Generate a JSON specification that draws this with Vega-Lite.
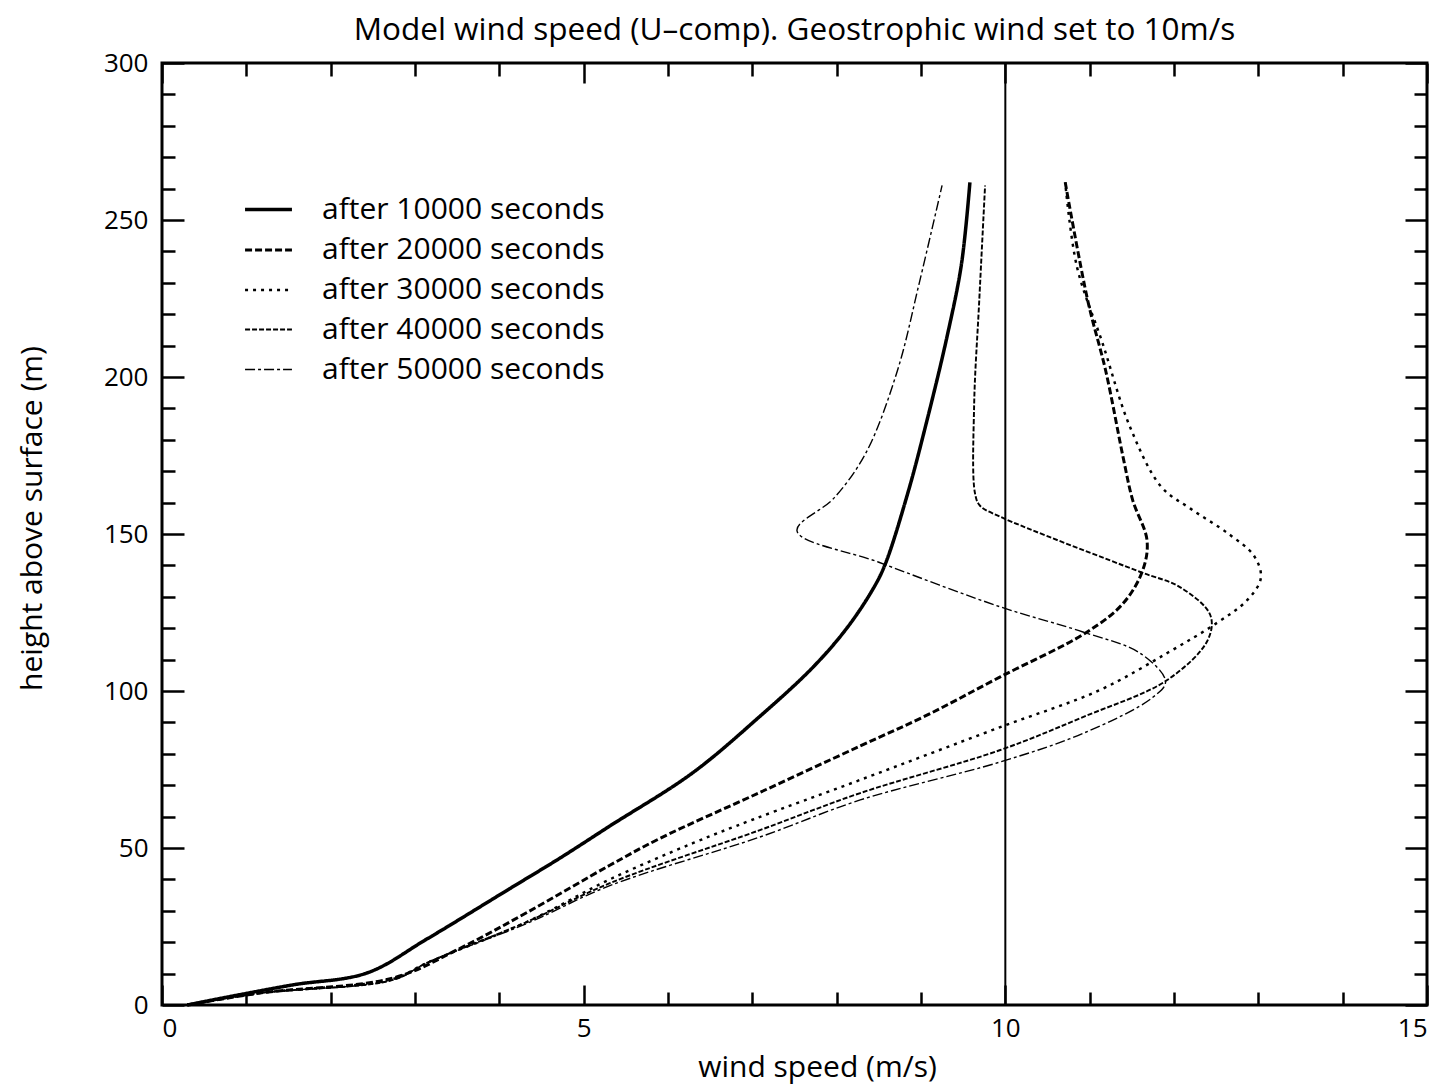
{
  "$schema": "https://vega.github.io/schema/vega-lite/v6.json",
  "width": 1265,
  "height": 942,
  "autosize": {"type": "none"},
  "padding": {"left": 162, "top": 63, "right": 24, "bottom": 86},
  "background": "white",
  "title": {"text": "Model wind speed (U–comp). Geostrophic wind set to 10m/s", "font": "Open Sans", "fontSize": 31.5, "fontWeight": "normal", "color": "black", "offset": 4, "anchor": "middle"},
  "config": {
    "view": {"stroke": "black", "strokeWidth": 3},
    "axis": {"grid": false, "domain": false, "tickColor": "black", "tickWidth": 2.5, "labelColor": "black", "titleColor": "black", "labelFont": "Open Sans", "titleFont": "Open Sans", "labelFontSize": 26, "titleFontSize": 30, "titleFontWeight": "normal"},
    "legend": {"orient": "none", "legendX": 81, "legendY": 121, "symbolType": "stroke", "symbolSize": 2200, "symbolStrokeColor": "black", "labelFont": "Open Sans", "labelFontSize": 30, "labelColor": "black", "labelOffset": 28, "rowPadding": -3, "padding": 0, "labelLimit": 500}
  },
  "data": {"values": [
    {"s": "after 10000 seconds", "h": 0, "v": 0.3},
    {"s": "after 10000 seconds", "h": 2.5, "v": 0.77},
    {"s": "after 10000 seconds", "h": 6.4, "v": 1.55},
    {"s": "after 10000 seconds", "h": 10.2, "v": 2.43},
    {"s": "after 10000 seconds", "h": 21, "v": 3.14},
    {"s": "after 10000 seconds", "h": 37, "v": 4.12},
    {"s": "after 10000 seconds", "h": 46.8, "v": 4.72},
    {"s": "after 10000 seconds", "h": 57, "v": 5.31},
    {"s": "after 10000 seconds", "h": 73.9, "v": 6.29},
    {"s": "after 10000 seconds", "h": 91.7, "v": 7.08},
    {"s": "after 10000 seconds", "h": 107.6, "v": 7.72},
    {"s": "after 10000 seconds", "h": 120, "v": 8.12},
    {"s": "after 10000 seconds", "h": 132, "v": 8.42},
    {"s": "after 10000 seconds", "h": 140, "v": 8.57},
    {"s": "after 10000 seconds", "h": 162.7, "v": 8.84},
    {"s": "after 10000 seconds", "h": 185, "v": 9.06},
    {"s": "after 10000 seconds", "h": 213, "v": 9.31},
    {"s": "after 10000 seconds", "h": 236, "v": 9.48},
    {"s": "after 10000 seconds", "h": 262, "v": 9.58},

    {"s": "after 20000 seconds", "h": 0, "v": 0.3},
    {"s": "after 20000 seconds", "h": 3.8, "v": 1.16},
    {"s": "after 20000 seconds", "h": 8.6, "v": 2.74},
    {"s": "after 20000 seconds", "h": 18, "v": 3.53},
    {"s": "after 20000 seconds", "h": 29.5, "v": 4.33},
    {"s": "after 20000 seconds", "h": 44.5, "v": 5.31},
    {"s": "after 20000 seconds", "h": 53, "v": 5.9},
    {"s": "after 20000 seconds", "h": 67.7, "v": 7.09},
    {"s": "after 20000 seconds", "h": 82.5, "v": 8.28},
    {"s": "after 20000 seconds", "h": 92.3, "v": 9.07},
    {"s": "after 20000 seconds", "h": 104.5, "v": 9.94},
    {"s": "after 20000 seconds", "h": 118.8, "v": 10.97},
    {"s": "after 20000 seconds", "h": 128, "v": 11.4},
    {"s": "after 20000 seconds", "h": 138.5, "v": 11.63},
    {"s": "after 20000 seconds", "h": 148, "v": 11.68},
    {"s": "after 20000 seconds", "h": 160.8, "v": 11.51},
    {"s": "after 20000 seconds", "h": 174, "v": 11.4},
    {"s": "after 20000 seconds", "h": 202, "v": 11.19},
    {"s": "after 20000 seconds", "h": 224, "v": 10.98},
    {"s": "after 20000 seconds", "h": 262, "v": 10.71},

    {"s": "after 30000 seconds", "h": 0, "v": 0.3},
    {"s": "after 30000 seconds", "h": 3.8, "v": 1.16},
    {"s": "after 30000 seconds", "h": 8.3, "v": 2.74},
    {"s": "after 30000 seconds", "h": 13.4, "v": 3.14},
    {"s": "after 30000 seconds", "h": 26.5, "v": 4.33},
    {"s": "after 30000 seconds", "h": 40, "v": 5.31},
    {"s": "after 30000 seconds", "h": 51.6, "v": 6.3},
    {"s": "after 30000 seconds", "h": 59, "v": 7.0},
    {"s": "after 30000 seconds", "h": 71.7, "v": 8.28},
    {"s": "after 30000 seconds", "h": 88.5, "v": 9.94},
    {"s": "after 30000 seconds", "h": 100.3, "v": 11.12},
    {"s": "after 30000 seconds", "h": 112.1, "v": 11.92},
    {"s": "after 30000 seconds", "h": 121.7, "v": 12.51},
    {"s": "after 30000 seconds", "h": 129, "v": 12.87},
    {"s": "after 30000 seconds", "h": 136, "v": 13.03},
    {"s": "after 30000 seconds", "h": 143, "v": 12.95},
    {"s": "after 30000 seconds", "h": 150, "v": 12.65},
    {"s": "after 30000 seconds", "h": 158, "v": 12.2},
    {"s": "after 30000 seconds", "h": 165, "v": 11.85},
    {"s": "after 30000 seconds", "h": 184, "v": 11.48},
    {"s": "after 30000 seconds", "h": 211, "v": 11.15},
    {"s": "after 30000 seconds", "h": 235, "v": 10.85},
    {"s": "after 30000 seconds", "h": 262, "v": 10.71},

    {"s": "after 40000 seconds", "h": 0, "v": 0.3},
    {"s": "after 40000 seconds", "h": 3.8, "v": 1.16},
    {"s": "after 40000 seconds", "h": 8, "v": 2.74},
    {"s": "after 40000 seconds", "h": 13.4, "v": 3.14},
    {"s": "after 40000 seconds", "h": 26.5, "v": 4.33},
    {"s": "after 40000 seconds", "h": 38.8, "v": 5.31},
    {"s": "after 40000 seconds", "h": 55.7, "v": 7.09},
    {"s": "after 40000 seconds", "h": 67.5, "v": 8.28},
    {"s": "after 40000 seconds", "h": 81.2, "v": 9.94},
    {"s": "after 40000 seconds", "h": 91.7, "v": 10.92},
    {"s": "after 40000 seconds", "h": 103.5, "v": 11.92},
    {"s": "after 40000 seconds", "h": 116.2, "v": 12.4},
    {"s": "after 40000 seconds", "h": 124.2, "v": 12.43},
    {"s": "after 40000 seconds", "h": 133.1, "v": 12.07},
    {"s": "after 40000 seconds", "h": 137.9, "v": 11.6},
    {"s": "after 40000 seconds", "h": 155.5, "v": 9.94},
    {"s": "after 40000 seconds", "h": 159, "v": 9.7},
    {"s": "after 40000 seconds", "h": 163, "v": 9.64},
    {"s": "after 40000 seconds", "h": 191, "v": 9.63},
    {"s": "after 40000 seconds", "h": 224, "v": 9.69},
    {"s": "after 40000 seconds", "h": 261, "v": 9.76},

    {"s": "after 50000 seconds", "h": 0, "v": 0.3},
    {"s": "after 50000 seconds", "h": 3.8, "v": 1.16},
    {"s": "after 50000 seconds", "h": 8, "v": 2.74},
    {"s": "after 50000 seconds", "h": 13.4, "v": 3.14},
    {"s": "after 50000 seconds", "h": 26, "v": 4.33},
    {"s": "after 50000 seconds", "h": 38, "v": 5.31},
    {"s": "after 50000 seconds", "h": 53.5, "v": 7.09},
    {"s": "after 50000 seconds", "h": 65.3, "v": 8.28},
    {"s": "after 50000 seconds", "h": 77.4, "v": 9.94},
    {"s": "after 50000 seconds", "h": 86.6, "v": 10.93},
    {"s": "after 50000 seconds", "h": 97.8, "v": 11.74},
    {"s": "after 50000 seconds", "h": 103, "v": 11.9},
    {"s": "after 50000 seconds", "h": 112, "v": 11.6},
    {"s": "after 50000 seconds", "h": 118.8, "v": 10.92},
    {"s": "after 50000 seconds", "h": 126.8, "v": 9.94},
    {"s": "after 50000 seconds", "h": 141, "v": 8.5},
    {"s": "after 50000 seconds", "h": 151, "v": 7.53},
    {"s": "after 50000 seconds", "h": 161.5, "v": 7.97},
    {"s": "after 50000 seconds", "h": 176, "v": 8.35},
    {"s": "after 50000 seconds", "h": 202, "v": 8.72},
    {"s": "after 50000 seconds", "h": 230, "v": 8.98},
    {"s": "after 50000 seconds", "h": 261, "v": 9.25}
  ]},
  "layer": [
    {
      "mark": {"type": "line", "color": "black", "interpolate": "catmull-rom"},
      "encoding": {
        "x": {"field": "v", "type": "quantitative", "scale": {"domain": [0, 15], "nice": false, "zero": false},
          "axis": {"orient": "bottom", "values": [0,1,2,3,4,5,6,7,8,9,10,11,12,13,14,15], "labelExpr": "datum.value % 5 === 0 ? datum.label : ''",
            "tickSize": {"condition": {"test": "datum.value % 5 === 0", "value": -20}, "value": -13},
            "labelPadding": 30, "title": "wind speed (m/s)", "titlePadding": 11, "titleX": 655}},
        "y": {"field": "h", "type": "quantitative", "scale": {"domain": [0, 300], "nice": false},
          "axis": {"orient": "left", "values": [0,10,20,30,40,50,60,70,80,90,100,110,120,130,140,150,160,170,180,190,200,210,220,230,240,250,260,270,280,290,300], "labelExpr": "datum.value % 50 === 0 ? datum.label : ''",
            "tickSize": {"condition": {"test": "datum.value % 50 === 0", "value": -22}, "value": -13},
            "labelPadding": 36, "title": "height above surface (m)", "titlePadding": 56, "titleY": 455}},
        "order": {"field": "h", "type": "quantitative"},
        "strokeDash": {"field": "s", "type": "nominal",
          "scale": {"domain": ["after 10000 seconds", "after 20000 seconds", "after 30000 seconds", "after 40000 seconds", "after 50000 seconds"], "range": [[1, 0], [7, 3], [3, 5], [5, 2], [10, 3, 3, 3]]},
          "legend": {"title": null}},
        "strokeWidth": {"field": "s", "type": "nominal",
          "scale": {"domain": ["after 10000 seconds", "after 20000 seconds", "after 30000 seconds", "after 40000 seconds", "after 50000 seconds"], "range": [3.5, 1.4, 2.8, 2.5, 2.3]},
          "legend": {"title": null}}
      }
    },
    {
      "data": {"values": [{"x": 10}]},
      "mark": {"type": "rule", "color": "black", "strokeWidth": 2},
      "encoding": {
        "x": {"field": "x", "type": "quantitative",
          "axis": {"orient": "top", "values": [0,1,2,3,4,5,6,7,8,9,10,11,12,13,14,15], "labels": false, "title": null,
            "tickSize": {"condition": {"test": "datum.value % 5 === 0", "value": -20}, "value": -13}}},
        "y": {"datum": 0, "type": "quantitative",
          "axis": {"orient": "right", "values": [0,10,20,30,40,50,60,70,80,90,100,110,120,130,140,150,160,170,180,190,200,210,220,230,240,250,260,270,280,290,300], "labels": false, "title": null,
            "tickSize": {"condition": {"test": "datum.value % 50 === 0", "value": -22}, "value": -13}}},
        "y2": {"datum": 300}
      }
    }
  ],
  "resolve": {"axis": {"x": "independent", "y": "independent"}}
}
